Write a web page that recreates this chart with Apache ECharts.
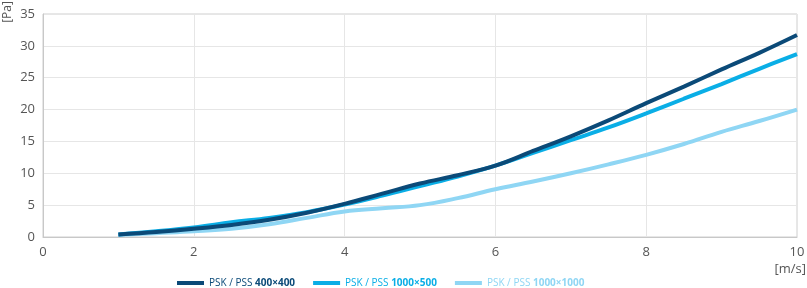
<!DOCTYPE html>
<html><head><meta charset="utf-8">
<script src="https://cdn.jsdelivr.net/npm/echarts@6/dist/echarts.min.js"></script>
<style>html,body{margin:0;padding:0;background:#fff}#c{width:807px;height:288px}</style>
</head><body><div id="c"></div>
<script>
const xs = [1,1.5,2,2.5,3,3.5,4,4.5,5,5.5,6,6.5,7,7.5,8,8.5,9,9.5,10];
const s400x400 = [0.4,0.8,1.3,1.9,2.7,3.8,5.2,6.8,8.4,9.7,11.2,13.5,15.8,18.3,21.0,23.6,26.3,28.9,31.7];
const s1000x500 = [0.4,0.9,1.5,2.3,3.0,3.9,5.1,6.5,8.0,9.5,11.2,13.2,15.2,17.2,19.4,21.7,24.0,26.4,28.7];
const s1000x1000 = [0.3,0.6,0.9,1.3,2.0,3.0,4.0,4.5,5.0,6.1,7.5,8.7,10.0,11.4,12.9,14.6,16.5,18.2,20.0];
const names = ['400×400','1000×500','1000×1000'];
const colors = ['#0b4a78','#0aaee6','#8fd6f4'];
const seriesData = [s400x400, s1000x500, s1000x1000];
const yName = '[Pa]';
const xName = '[m/s]';

const chart = echarts.init(document.getElementById('c'));
chart.setOption({
  animation:false,
  textStyle:{fontFamily:'Open Sans'},
  grid:{left:43,right:10,top:14,bottom:51,show:true,borderColor:'#cfcfcf',borderWidth:1,outerBoundsMode:'none',containLabel:false},
  graphic:[
    {type:'text',x:8,y:12,rotation:Math.PI/2,style:{text:yName,fill:'#555',fontSize:12,fontFamily:'Open Sans',align:'center',verticalAlign:'middle'}},
    {type:'text',x:806,y:263,style:{text:xName,fill:'#555',fontSize:13,fontFamily:'Open Sans',align:'right',verticalAlign:'top'}}
  ],
  legend:{
    top:273,left:172,itemWidth:27,itemHeight:4,itemGap:18,icon:'rect',
    data:names,
    formatter:function(n){const i=names.indexOf(n);return '{a'+i+'|PSK / PSS }{b'+i+'|'+n+'}';},
    textStyle:{rich:{
      a0:{color:colors[0],fontSize:10},b0:{color:colors[0],fontSize:10,fontWeight:'bold'},
      a1:{color:colors[1],fontSize:10},b1:{color:colors[1],fontSize:10,fontWeight:'bold'},
      a2:{color:colors[2],fontSize:10},b2:{color:colors[2],fontSize:10,fontWeight:'bold'}
    }}
  },
  xAxis:{type:'value',min:0,max:10,interval:2,
    axisLine:{lineStyle:{color:'#c8c8c8'}},axisTick:{show:false},
    axisLabel:{color:'#555',fontSize:13,margin:9},
    splitLine:{show:true,lineStyle:{color:'#e6e6e6'}}},
  yAxis:{type:'value',min:0,max:35,interval:5,
    axisLine:{show:true,lineStyle:{color:'#c8c8c8'}},axisTick:{show:false},
    axisLabel:{color:'#555',fontSize:13,margin:8},
    splitLine:{show:true,lineStyle:{color:'#e6e6e6'}}},
  series:names.map((n,i)=>({
    name:n,type:'line',smooth:0.4,showSymbol:false,symbol:'none',
    color:colors[i],lineStyle:{width:4,color:colors[i]},
    z:3-i,
    data:xs.map((x,j)=>[x,seriesData[i][j]])
  }))
});
</script></body></html>
